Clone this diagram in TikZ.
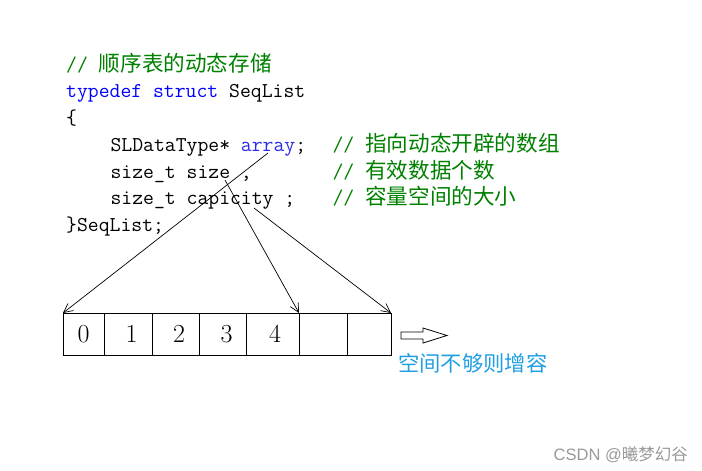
\documentclass[tikz,border=0pt]{standalone}
\usepackage{fontspec}
\usepackage{xcolor}
\usetikzlibrary{arrows.meta}
\newfontfamily\cjk{Noto Sans CJK SC}
\newfontfamily\arialish{Liberation Sans}
\definecolor{cmtgreen}{RGB}{0,128,0}
\definecolor{kwblue}{RGB}{0,0,255}
\definecolor{varblue}{RGB}{45,45,235}
\definecolor{noteblue}{RGB}{32,158,226}
\newcommand{\cn}[1]{{\cjk\fontsize{21.6}{21.6}\selectfont #1}}

\begin{document}
\begin{tikzpicture}[x=1pt, y=-1pt,
    code/.style={anchor=base west, inner sep=0pt, font=\ttfamily\fontsize{21.1}{21.1}\selectfont},
    cmt/.style={code, text=cmtgreen},
    cell/.style={draw, line width=0.8pt, inner sep=0pt, outer sep=0pt, minimum height=42pt,
        font=\fontsize{26}{26}\selectfont},
    ptr/.style={-{Straight Barb[length=9pt, width=9pt]}, line width=0.7pt}]
    \useasboundingbox (0,0) rectangle (702,471);
    % code lines
    \node[cmt] (lnCmt) at (66,71) {// \cn{顺序表的动态存储}};
    \node[code] (lnType) at (66,97.5) {{\color{kwblue}typedef struct} SeqList};
    \node[code] (lnOpen) at (66,124) {\{};
    \node[code] (lnArray) at (110.4,151) {SLDataType* {\color{varblue}array};};
    \node[code] (lnSize) at (110.4,178) {size\_t size ,};
    \node[code] (lnCap) at (110.4,204.5) {size\_t capicity ;};
    \node[code] (lnClose) at (66,231) {\}SeqList;};
    \node[cmt] (cmArray) at (332.4,151) {// \cn{指向动态开辟的数组}};
    \node[cmt] (cmSize) at (332.4,178) {// \cn{有效数据个数}};
    \node[cmt] (cmCap) at (332.4,204.5) {// \cn{容量空间的大小}};
    % array cells
    \foreach \i/\xa/\xb/\d/\t in {0/63/104/0/0, 1/104/152/7/1, 2/152/199/7/2, 3/199/246/8/3,
        4/246/299/5/4, 5/299/347/0/, 6/347/391/0/}
        \node[cell, minimum width={(\xb-\xa)*1pt}] (c\i) at ({(\xa+\xb)/2},334) {\hspace*{\d pt}\t};
    % pointers
    \coordinate (pArray) at (268,153);
    \coordinate (pSize) at (225,180);
    \coordinate (pCap) at (254,208);
    \draw[ptr] (pArray) -- (c0.north west);
    \draw[ptr] (pSize) -- (c5.north west);
    \draw[ptr] (pCap) -- (c6.north east);
    % grow arrow
    \draw[line width=0.8pt] (401,332) -- (423,332) -- (423,328) -- (447,335.5)
        -- (423,343) -- (423,339) -- (401,339) -- cycle;
    \node[anchor=west, inner sep=0pt, text=noteblue, font=\cjk\fontsize{21.3}{21.3}\selectfont]
        (grow) at (398,363) {空间不够则增容};
    \node[anchor=east, inner sep=0pt, text=black!40, font=\fontsize{16.5}{16.5}\selectfont]
        (mark) at (688,455) {{\arialish CSDN @}{\cjk 曦梦幻谷}};
\end{tikzpicture}
\end{document}
